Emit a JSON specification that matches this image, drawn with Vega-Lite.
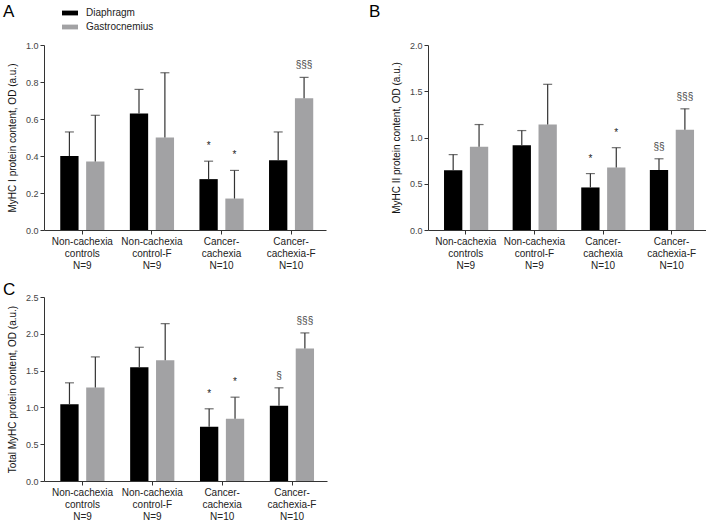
{
  "$schema": "https://vega.github.io/schema/vega-lite/v6.json",
  "background": "white",
  "padding": {"left": 3, "top": 3, "right": 0, "bottom": 0},
  "datasets": {
    "myhc": [
      {"panel": "A", "group": "Non-cachexia|controls|N=9", "muscle": "Diaphragm", "mean": 0.40, "upper": 0.53, "sig": ""},
      {"panel": "A", "group": "Non-cachexia|controls|N=9", "muscle": "Gastrocnemius", "mean": 0.37, "upper": 0.62, "sig": ""},
      {"panel": "A", "group": "Non-cachexia|control-F|N=9", "muscle": "Diaphragm", "mean": 0.63, "upper": 0.76, "sig": ""},
      {"panel": "A", "group": "Non-cachexia|control-F|N=9", "muscle": "Gastrocnemius", "mean": 0.50, "upper": 0.85, "sig": ""},
      {"panel": "A", "group": "Cancer-|cachexia|N=10", "muscle": "Diaphragm", "mean": 0.275, "upper": 0.372, "sig": "*"},
      {"panel": "A", "group": "Cancer-|cachexia|N=10", "muscle": "Gastrocnemius", "mean": 0.17, "upper": 0.322, "sig": "*"},
      {"panel": "A", "group": "Cancer-|cachexia-F|N=10", "muscle": "Diaphragm", "mean": 0.377, "upper": 0.53, "sig": ""},
      {"panel": "A", "group": "Cancer-|cachexia-F|N=10", "muscle": "Gastrocnemius", "mean": 0.712, "upper": 0.825, "sig": "§§§"},
      {"panel": "B", "group": "Non-cachexia|controls|N=9", "muscle": "Diaphragm", "mean": 0.645, "upper": 0.815, "sig": ""},
      {"panel": "B", "group": "Non-cachexia|controls|N=9", "muscle": "Gastrocnemius", "mean": 0.90, "upper": 1.14, "sig": ""},
      {"panel": "B", "group": "Non-cachexia|control-F|N=9", "muscle": "Diaphragm", "mean": 0.915, "upper": 1.075, "sig": ""},
      {"panel": "B", "group": "Non-cachexia|control-F|N=9", "muscle": "Gastrocnemius", "mean": 1.14, "upper": 1.575, "sig": ""},
      {"panel": "B", "group": "Cancer-|cachexia|N=10", "muscle": "Diaphragm", "mean": 0.46, "upper": 0.61, "sig": "*"},
      {"panel": "B", "group": "Cancer-|cachexia|N=10", "muscle": "Gastrocnemius", "mean": 0.675, "upper": 0.89, "sig": "*"},
      {"panel": "B", "group": "Cancer-|cachexia-F|N=10", "muscle": "Diaphragm", "mean": 0.65, "upper": 0.77, "sig": "§§"},
      {"panel": "B", "group": "Cancer-|cachexia-F|N=10", "muscle": "Gastrocnemius", "mean": 1.085, "upper": 1.31, "sig": "§§§"},
      {"panel": "C", "group": "Non-cachexia|controls|N=9", "muscle": "Diaphragm", "mean": 1.044, "upper": 1.334, "sig": ""},
      {"panel": "C", "group": "Non-cachexia|controls|N=9", "muscle": "Gastrocnemius", "mean": 1.27, "upper": 1.686, "sig": ""},
      {"panel": "C", "group": "Non-cachexia|control-F|N=9", "muscle": "Diaphragm", "mean": 1.546, "upper": 1.817, "sig": ""},
      {"panel": "C", "group": "Non-cachexia|control-F|N=9", "muscle": "Gastrocnemius", "mean": 1.641, "upper": 2.138, "sig": ""},
      {"panel": "C", "group": "Cancer-|cachexia|N=10", "muscle": "Diaphragm", "mean": 0.737, "upper": 0.981, "sig": "*"},
      {"panel": "C", "group": "Cancer-|cachexia|N=10", "muscle": "Gastrocnemius", "mean": 0.845, "upper": 1.139, "sig": "*"},
      {"panel": "C", "group": "Cancer-|cachexia-F|N=10", "muscle": "Diaphragm", "mean": 1.022, "upper": 1.266, "sig": "§"},
      {"panel": "C", "group": "Cancer-|cachexia-F|N=10", "muscle": "Gastrocnemius", "mean": 1.80, "upper": 2.012, "sig": "§§§"}
    ]
  },
  "data": {"name": "myhc"},
  "columns": 2,
  "bounds": "flush",
  "spacing": {"row": 67, "column": 101},
  "resolve": {"legend": {"color": "shared"}},
  "concat": [
    {
      "width": 282,
      "height": 185,
      "title": {"text": "A", "anchor": "start", "frame": "group", "fontSize": 17, "fontWeight": "normal", "offset": 7, "dx": -41, "baseline": "alphabetic", "color": "#000"},
      "transform": [{"filter": "datum.panel == 'A'"}],
      "encoding": {
        "x": {"field": "group", "type": "nominal", "sort": null, "scale": {"paddingInner": 0.365, "paddingOuter": 0.2085, "align": 0.56}, "axis": {"title": null, "labelAngle": 0, "labelExpr": "split(datum.label, '|')"}},
        "xOffset": {"field": "muscle", "type": "nominal", "sort": ["Diaphragm", "Gastrocnemius"], "scale": {"paddingInner": 0.293, "paddingOuter": 0}},
        "y": {"field": "mean", "type": "quantitative", "scale": {"domain": [0, 1], "nice": false}, "axis": {"title": "MyHC I protein content, OD (a.u.)", "values": [0, 0.2, 0.4, 0.6, 0.8, 1.0], "format": ".1f"}}
      },
      "layer": [
        {"mark": {"type": "bar"}, "encoding": {"color": {"field": "muscle", "type": "nominal", "scale": {"domain": ["Diaphragm", "Gastrocnemius"], "range": ["#000000", "#a2a2a4"]}}}},
        {"mark": {"type": "rule", "color": "#333333", "strokeWidth": 1.2}, "encoding": {"y2": {"field": "upper"}}},
        {"mark": {"type": "tick", "color": "#333333", "thickness": 1.2, "size": 9}, "encoding": {"y": {"field": "upper", "type": "quantitative"}}},
        {"transform": [{"filter": "datum.sig == '*'"}], "mark": {"type": "text", "fontSize": 10, "dy": -12, "baseline": "alphabetic", "fill": "#222222"}, "encoding": {"y": {"field": "upper", "type": "quantitative"}, "text": {"field": "sig"}}},
        {"transform": [{"filter": "indexof(datum.sig, '§') >= 0"}], "mark": {"type": "text", "fontSize": 10, "dy": -9, "baseline": "alphabetic", "fill": "#444444"}, "encoding": {"y": {"field": "upper", "type": "quantitative"}, "text": {"field": "sig"}}}
      ]
    },
    {
      "width": 278,
      "height": 185,
      "title": {"text": "B", "anchor": "start", "frame": "group", "fontSize": 17, "fontWeight": "normal", "offset": 7, "dx": -59, "baseline": "alphabetic", "color": "#000"},
      "transform": [{"filter": "datum.panel == 'B'"}],
      "encoding": {
        "x": {"field": "group", "type": "nominal", "sort": null, "scale": {"paddingInner": 0.365, "paddingOuter": 0.2085, "align": 0.56}, "axis": {"title": null, "labelAngle": 0, "labelExpr": "split(datum.label, '|')"}},
        "xOffset": {"field": "muscle", "type": "nominal", "sort": ["Diaphragm", "Gastrocnemius"], "scale": {"paddingInner": 0.293, "paddingOuter": 0}},
        "y": {"field": "mean", "type": "quantitative", "scale": {"domain": [0, 2], "nice": false}, "axis": {"title": "MyHC II protein content, OD (a.u.)", "values": [0, 0.5, 1.0, 1.5, 2.0], "format": ".1f"}}
      },
      "layer": [
        {"mark": {"type": "bar"}, "encoding": {"color": {"field": "muscle", "type": "nominal", "scale": {"domain": ["Diaphragm", "Gastrocnemius"], "range": ["#000000", "#a2a2a4"]}}}},
        {"mark": {"type": "rule", "color": "#333333", "strokeWidth": 1.2}, "encoding": {"y2": {"field": "upper"}}},
        {"mark": {"type": "tick", "color": "#333333", "thickness": 1.2, "size": 9}, "encoding": {"y": {"field": "upper", "type": "quantitative"}}},
        {"transform": [{"filter": "datum.sig == '*'"}], "mark": {"type": "text", "fontSize": 10, "dy": -12, "baseline": "alphabetic", "fill": "#222222"}, "encoding": {"y": {"field": "upper", "type": "quantitative"}, "text": {"field": "sig"}}},
        {"transform": [{"filter": "indexof(datum.sig, '§') >= 0"}], "mark": {"type": "text", "fontSize": 10, "dy": -9, "baseline": "alphabetic", "fill": "#444444"}, "encoding": {"y": {"field": "upper", "type": "quantitative"}, "text": {"field": "sig"}}}
      ]
    },
    {
      "width": 283,
      "height": 184,
      "title": {"text": "C", "anchor": "start", "frame": "group", "fontSize": 17, "fontWeight": "normal", "offset": -19, "dx": -41, "baseline": "alphabetic", "color": "#000"},
      "transform": [{"filter": "datum.panel == 'C'"}],
      "encoding": {
        "x": {"field": "group", "type": "nominal", "sort": null, "scale": {"paddingInner": 0.365, "paddingOuter": 0.2085, "align": 0.56}, "axis": {"title": null, "labelAngle": 0, "labelExpr": "split(datum.label, '|')"}},
        "xOffset": {"field": "muscle", "type": "nominal", "sort": ["Diaphragm", "Gastrocnemius"], "scale": {"paddingInner": 0.293, "paddingOuter": 0}},
        "y": {"field": "mean", "type": "quantitative", "scale": {"domain": [0, 2.5], "nice": false}, "axis": {"title": "Total MyHC protein content, OD (a.u.)", "values": [0, 0.5, 1.0, 1.5, 2.0, 2.5], "format": ".1f"}}
      },
      "layer": [
        {"mark": {"type": "bar"}, "encoding": {"color": {"field": "muscle", "type": "nominal", "scale": {"domain": ["Diaphragm", "Gastrocnemius"], "range": ["#000000", "#a2a2a4"]}}}},
        {"mark": {"type": "rule", "color": "#333333", "strokeWidth": 1.2}, "encoding": {"y2": {"field": "upper"}}},
        {"mark": {"type": "tick", "color": "#333333", "thickness": 1.2, "size": 9}, "encoding": {"y": {"field": "upper", "type": "quantitative"}}},
        {"transform": [{"filter": "datum.sig == '*'"}], "mark": {"type": "text", "fontSize": 10, "dy": -12, "baseline": "alphabetic", "fill": "#222222"}, "encoding": {"y": {"field": "upper", "type": "quantitative"}, "text": {"field": "sig"}}},
        {"transform": [{"filter": "indexof(datum.sig, '§') >= 0"}], "mark": {"type": "text", "fontSize": 10, "dy": -9, "baseline": "alphabetic", "fill": "#444444"}, "encoding": {"y": {"field": "upper", "type": "quantitative"}, "text": {"field": "sig"}}}
      ]
    }
  ],
  "config": {
    "font": "Liberation Sans",
    "view": {"stroke": null},
    "axis": {"grid": false, "domainColor": "#333", "tickColor": "#333", "tickSize": 4, "labelColor": "#444", "labelFontSize": 9, "titleFontSize": 10, "titleFontWeight": "normal", "titleColor": "#111", "labelFont": "Liberation Sans", "titleFont": "Liberation Sans"},
    "axisX": {"labelFontSize": 10, "labelColor": "#222", "labelLineHeight": 12.2, "labelPadding": 2, "domainColor": "#333"},
    "axisY": {"titlePadding": 8, "labelPadding": 2},
    "legend": {"orient": "none", "legendX": 18, "legendY": -40, "title": null, "symbolType": "M-1,-0.3L1,-0.3L1,0.3L-1,0.3Z", "symbolSize": 256, "symbolStrokeWidth": 0, "labelFontSize": 10, "labelColor": "#222", "labelOffset": 8, "rowPadding": 1}
  }
}
